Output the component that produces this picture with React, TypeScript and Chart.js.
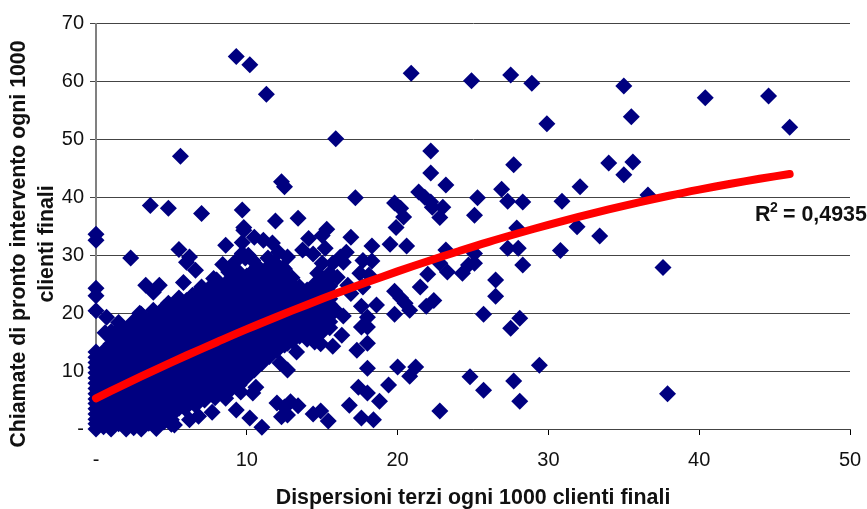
import React, { useEffect, useRef } from "react";
import { Chart, registerables } from "chart.js";

Chart.register(...registerables);

const xTitle = "Dispersioni terzi ogni 1000 clienti finali";
const yTitle = ["Chiamate di pronto intervento ogni 1000", "clienti finali"];
const r2Parts = ["R", "2", "= 0,4935"];

// Dense cloud, read column by column: x, then the y values at that x
const cloudX = [0, 0.5, 1, 1.5, 2, 2.5, 3, 3.5, 4, 4.5, 5, 5.5, 6, 6.5, 7, 7.5, 8, 8.5, 9, 9.5, 10, 10.5, 11, 11.5, 12, 12.5, 13, 13.5, 14, 14.5, 15, 15.5];
const cloudY = [
  [0, 1.7, 3.5, 5.2, 7, 8.8, 10.6, 12.4, 13.3],
  [0.4, 2.6, 4.8, 7, 9.2, 11.4, 13.4],
  [0, 1.6, 3.7, 5.9, 8.1, 10.3, 12.5, 14.7, 16.8],
  [0.9, 3.1, 5.3, 7.4, 9.6, 11.8, 13.9, 16.1, 18.4],
  [0, 2, 4.2, 6.3, 8.5, 10.7, 12.9, 15, 17.2],
  [1.1, 3.2, 5.4, 7.6, 9.8, 12, 14.1, 16.3, 18.6],
  [0, 2.1, 4.3, 6.5, 8.7, 10.9, 13.1, 15.2, 17.4, 19.8],
  [1, 3.2, 5.4, 7.5, 9.7, 11.9, 14.1, 16.3, 18.5],
  [0.1, 2.2, 4.4, 6.6, 8.8, 11, 13.2, 15.3, 17.5, 19.7],
  [1.2, 3.4, 5.5, 7.7, 9.9, 12.1, 14.2, 16.4, 18.6, 20.9],
  [0.8, 2.4, 4.6, 6.8, 9, 11.1, 13.3, 15.5, 17.7, 19.9],
  [3.6, 5.8, 7.9, 10.1, 12.3, 14.4, 16.6, 18.8, 21, 22.6],
  [4.8, 6.9, 9.1, 11.3, 13.4, 15.6, 17.8, 20, 22.2],
  [5.4, 7.6, 9.8, 12, 14.2, 16.4, 18.6, 20.7, 22.9],
  [5.8, 8, 10.2, 12.4, 14.5, 16.7, 18.9, 21.1, 23.3],
  [5.9, 9.2, 11.4, 13.5, 15.7, 17.9, 20, 22.2, 24.3],
  [6.3, 8.4, 10.6, 12.8, 14.9, 17.1, 19.3, 21.5, 23.7, 25.7],
  [6.6, 9.5, 11.7, 13.9, 16, 18.2, 20.4, 22.6, 24.8],
  [7, 8.9, 11, 13.2, 15.4, 17.5, 19.7, 21.9, 24.1, 26.2],
  [7.6, 10, 12.2, 14.3, 16.5, 18.7, 20.9, 23, 25.2, 27],
  [9, 11.2, 13.4, 15.5, 17.7, 19.9, 22.1, 24.2, 26.4],
  [10.2, 12.3, 14.5, 16.7, 18.8, 21, 23.2, 25.4, 27.5],
  [11.4, 13.5, 15.7, 17.9, 20, 22.2, 24.4, 26.6],
  [12.5, 14.6, 16.8, 19, 21.1, 23.3, 25.5, 27.6],
  [13.6, 15.7, 17.9, 20.1, 22.3, 24.4, 26.6],
  [14.6, 16.8, 19, 21.2, 23.3, 25.5, 27.6],
  [15.2, 17.4, 19.5, 21.7, 23.9, 26.1],
  [16, 18.2, 20.4, 22.5, 24.5],
  [15.5, 17.7, 19.9, 22, 24],
  [15, 17.2, 19.3, 21.5, 23.5, 25],
  [16.8, 19, 21, 23, 25.5],
  [17.5, 19.5, 21.5, 23.5, 26],
];
const cloudYBetween = [
  [0.9, 2.6, 4.4, 6.1, 7.9, 9.7, 11.5],
  [1.5, 3.7, 5.9, 8.1, 10.3, 12.4],
  [0.8, 2.7, 4.8, 7, 9.2, 11.4, 13.6, 15.7],
  [2, 4.2, 6.4, 8.5, 10.7, 12.9, 15, 17.2],
  [1, 3.1, 5.2, 7.4, 9.6, 11.8, 14, 16.1],
  [0.2, 2.2, 4.3, 6.5, 8.7, 10.9, 13, 15.2, 17.4],
  [1, 3.2, 5.4, 7.6, 9.8, 12, 14.2, 16.3, 18.6],
  [2.1, 4.3, 6.4, 8.6, 10.8, 13, 15.2, 17.4],
  [1.1, 3.3, 5.5, 7.7, 9.9, 12.1, 14.2, 16.4, 18.6],
  [2.3, 4.5, 6.6, 8.8, 11, 13.2, 15.3, 17.5, 19.8],
  [1.6, 3.5, 5.7, 7.9, 10, 12.2, 14.4, 16.6, 18.8, 20.9],
  [4.7, 6.9, 9, 11.2, 13.4, 15.5, 17.7, 19.9, 21.8],
  [5.9, 8, 10.2, 12.4, 14.5, 16.7, 18.9, 21.1],
  [6.5, 8.7, 10.9, 13.1, 15.3, 17.5, 19.7, 21.8],
  [6.9, 9.1, 11.3, 13.5, 15.6, 17.8, 20, 22.2, 24.1],
  [7.5, 10.3, 12.5, 14.6, 16.8, 19, 21.1, 23.3],
  [7.4, 9.5, 11.7, 13.9, 16, 18.2, 20.4, 22.6, 24.7],
  [8, 10.6, 12.8, 15, 17.1, 19.3, 21.5, 23.7],
  [8, 10, 12.1, 14.3, 16.5, 18.6, 20.8, 23, 25.2],
  [8.8, 11.1, 13.3, 15.4, 17.6, 19.8, 22, 24.1, 26.1],
  [10.1, 12.3, 14.5, 16.6, 18.8, 21, 23.2, 25.3],
  [11.3, 13.4, 15.6, 17.8, 19.9, 22.1, 24.3, 26.5],
  [12.5, 14.6, 16.8, 19, 21.1, 23.3, 25.5],
  [13.6, 15.7, 17.9, 20, 22.2, 24.4, 26.6],
  [14.7, 16.8, 19, 21.2, 23.4, 25.5],
  [15.7, 17.9, 20.1, 22.3, 24.4, 26.6],
  [16.3, 18.5, 20.6, 22.8, 25],
  [17.1, 19.3, 21.5, 23.5],
  [16.6, 18.8, 21, 23],
  [16.1, 18.3, 20.4, 22.5, 24.2],
  [17.9, 20, 22, 24.2],
  [18.5, 20.5, 22.5, 24.7],
];

// Separate diamonds read one by one
const looseX = [9.3, 10.2, 11.3, 20.9, 24.9, 27.5, 28.9, 35, 40.4, 44.6, 46, 35.5, 29.9, 15.9, 5.6, 22.2, 34, 35.6, 27.7, 35, 22.2, 32.1, 36.6, 23.2, 12.3, 12.5, 17.2, 21.4, 21.8, 22.2, 22.3, 23, 22.8, 25.3, 25.1, 26.9, 27.3, 28.3, 27.9, 27.3, 28, 28.3, 26.5, 26.5, 25.7, 28.1, 27.5, 29.4, 27.7, 28.1, 25.7, 24.8, 22.8, 19.8, 20.2, 20.4, 19.9, 13.4, 15.3, 15, 14.1, 16.9, 15.2, 13.7, 14.4, 16.6, 18.3, 19.5, 20.6, 23.2, 25.1, 25.1, 24.7, 24.3, 23.3, 22.8, 22, 21.5, 22.4, 21.9, 19.8, 20.2, 20.5, 20.8, 19.8, 18.6, 17.6, 15.8, 16.4, 15.3, 14.3, 18, 17.6, 18, 16.3, 14.9, 15.7, 18, 17.3, 13.3, 12.7, 18, 20, 21.2, 20.8, 19.4, 17.4, 18, 18.8, 16.8, 17.6, 18.4, 15.4, 14.9, 14.4, 12.7, 13.4, 12.9, 12.5, 12.7, 17.7, 18.3, 17.5, 18.1, 17.7, 16.7, 16.9, 16.2, 15.7, 16.4, 15.5, 16, 15, 15.3, 14.7, 14.3, 13.9, 14.4, 14.7, 15, 12.7, 12.4, 3.6, 4.8, 7, 9.7, 9.8, 11.9, 0, 0, 0, 0, 0, 2.3, 5.5, 6.2, 6, 6.6, 8.6, 9.7, 10.5, 11.1, 11.7, 9.8, 9.7, 10.1, 8.4, 7.8, 5.8, 4.2, 3.8, 3.3, 2.9, 3.8, 4.8, 6.4, 7, 0.7, 0.6, 10.4, 11.2, 11.9, 10.6, 10.4, 12, 12.3, 11, 10.2, 9.3, 7.7, 6.8, 6.2, 5.2, 4.6, 3.7, 3, 12.5, 12.2, 30.9, 30.8, 31.9, 33.4, 37.6, 37.9, 9.2, 9.9, 10.7, 11.4, 12.1, 8.8, 7.2, 7.9, 8.6, 9.6, 6.6, 5.9];
const looseY = [64.3, 62.9, 57.8, 61.4, 60.1, 61.1, 59.7, 59.2, 57.2, 57.5, 52.1, 53.9, 52.7, 50.1, 47.1, 48, 45.9, 46.1, 45.6, 43.9, 44.2, 41.8, 40.4, 42.1, 42.7, 41.8, 39.9, 40.9, 40, 39.2, 38.3, 38.3, 36.5, 39.9, 36.9, 41.4, 39.3, 39.2, 34.7, 31.2, 31.2, 28.3, 25.7, 22.9, 19.8, 19.1, 17.4, 11, 8.3, 4.8, 6.7, 9, 3.1, 39, 38.1, 36.6, 34.8, 36.4, 34.5, 33.4, 32.9, 33.1, 31.2, 30.9, 30.2, 30.5, 31.6, 31.9, 31.6, 30.9, 30.3, 28.6, 28.3, 26.9, 27.1, 28.6, 26.7, 24.5, 22.2, 21.2, 23.8, 22.6, 21.7, 20.5, 19.8, 21.4, 21.2, 20.7, 19.5, 18.4, 18.4, 19.3, 17.6, 17.6, 16.2, 14.7, 14.3, 14.8, 13.6, 13.3, 14.8, 10.5, 10.7, 10.7, 9.1, 7.6, 7.2, 6.2, 4.8, 4.1, 1.9, 1.6, 1.4, 3.1, 2.6, 10.2, 4, 4.7, 3.8, 2.4, 29.1, 29, 26.9, 26.6, 24.5, 24.8, 23.4, 29.7, 28.6, 28.8, 26.9, 26.2, 25.2, 24, 22.2, 20.5, 20, 22.8, 26.9, 28.6, 29.7, 27.9, 38.6, 38.1, 37.2, 37.8, 34.8, 35.9, 33.6, 32.6, 24.3, 23, 20.4, 29.5, 31, 29.7, 28.8, 27.4, 31.7, 32.2, 33.1, 32.6, 32.1, 34.3, 30.3, 30, 28.4, 26, 25.3, 24.8, 23.6, 24.8, 20, 20.5, 21.7, 23.1, 24.5, 19.3, 16.6, 29.1, 27.4, 28.6, 7.2, 6.2, 4.5, 2.1, 0.3, 1.9, 3.3, 2.9, 2.2, 1.6, 0.7, 1.9, 1.2, 0.3, 14.5, 11.4, 39.3, 30.8, 34.9, 33.3, 27.9, 6.1, 28.8, 29.5, 28.1, 29.5, 30.5, 27.1, 5, 5.4, 5.3, 6.4, 4.1, 3.6];

const trendX = [0, 2, 4, 6, 8, 10, 12, 14, 16, 18, 20, 22, 24, 26, 28, 30, 32, 34, 36, 38, 40, 42, 44, 46];
const trendY = [5.3, 7.84, 10.31, 12.69, 14.98, 17.23, 19.38, 21.46, 23.46, 25.37, 27.21, 28.97, 30.65, 32.27, 33.79, 35.24, 36.61, 37.9, 39.12, 40.26, 41.31, 42.29, 43.19, 44.02];

export default function App() {
  const ref = useRef<HTMLCanvasElement>(null);
  useEffect(() => {
    const points: { x: number; y: number }[] = [];
    cloudX.forEach((x, i) => {
      cloudY[i].forEach((y) => points.push({ x, y }));
      cloudYBetween[i].forEach((y) => points.push({ x, y }));
    });
    looseX.forEach((x, i) => points.push({ x, y: looseY[i] }));
    const trend = trendX.map((x, i) => ({ x, y: trendY[i] }));
    const font = "'Liberation Sans', Arial, sans-serif";
    const textPlugin = {
      id: "texts",
      afterDraw(c: any) {
        const ctx = c.ctx;
        const { x, y } = c.scales;
        ctx.save();
        ctx.fillStyle = "#111";
        ctx.textBaseline = "middle";
        ctx.textAlign = "left";
        ctx.font = `bold 21.4px ${font}`;
        const rx = x.getPixelForValue(43.7);
        const ry = y.getPixelForValue(37);
        ctx.fillText(r2Parts[0], rx, ry);
        ctx.fillText(r2Parts[2], rx + 28, ry);
        ctx.font = `bold 14px ${font}`;
        ctx.fillText(r2Parts[1], rx + 15, ry - 7);
        ctx.font = `bold 21.3px ${font}`;
        ctx.textAlign = "center";
        ctx.translate(0, 244);
        ctx.rotate(-Math.PI / 2);
        ctx.fillText(yTitle[0], 0, 19);
        ctx.fillText(yTitle[1], 0, 47);
        ctx.restore();
      },
    };
    const chart = new Chart(ref.current!, {
      type: "scatter",
      data: {
        datasets: [
          {
            label: "Trend",
            data: trend,
            showLine: true,
            borderColor: "#ff0000",
            borderWidth: 8,
            borderCapStyle: "round",
            pointRadius: 0,
            tension: 0.4,
            order: 0,
            clip: false,
          },
          {
            label: "Dati",
            data: points,
            pointStyle: "rectRot",
            pointRadius: 8.5,
            pointBackgroundColor: "#000080",
            pointBorderWidth: 0,
            order: 1,
            clip: false,
          },
        ],
      } as any,
      options: {
        animation: false,
        responsive: false,
        layout: { padding: { top: 23.5, right: 17, left: 0, bottom: 0 } },
        plugins: { legend: { display: false }, tooltip: { enabled: false } },
        scales: {
          x: {
            type: "linear",
            min: 0,
            max: 50,
            afterFit(s: any) {
              s.height = 80;
              s.paddingLeft = 0;
              s.paddingRight = 0;
            },
            grid: { drawOnChartArea: false, drawTicks: true, tickLength: 6, color: "#000" },
            border: { color: "#444", width: 1 },
            ticks: {
              stepSize: 10,
              maxRotation: 0,
              color: "#111",
              padding: 13,
              font: { family: font, size: 20 },
              callback: (v: any) => (v === 0 ? "-" : v),
            },
            title: {
              display: true,
              text: xTitle,
              color: "#111",
              font: { family: font, size: 21.4, weight: "bold", lineHeight: 1 },
              padding: { top: 0, bottom: 0 },
            },
          },
          y: {
            type: "linear",
            min: 0,
            max: 70,
            afterFit(s: any) { s.width = 96; },
            grid: { color: "#444", lineWidth: 1, tickLength: 6 },
            border: { color: "#808080", width: 2 },
            ticks: {
              stepSize: 10,
              color: "#111",
              padding: 6,
              font: { family: font, size: 20 },
              callback: (v: any) => (v === 0 ? "-" : v),
            },
          },
        },
      } as any,
      plugins: [textPlugin],
    });
    return () => chart.destroy();
  }, []);
  return (
    <div style={{ position: "absolute", left: 0, top: 0, width: 867, height: 509, background: "#fff" }}>
      <canvas ref={ref} width={867} height={509} style={{ display: "block" }} />
    </div>
  );
}
